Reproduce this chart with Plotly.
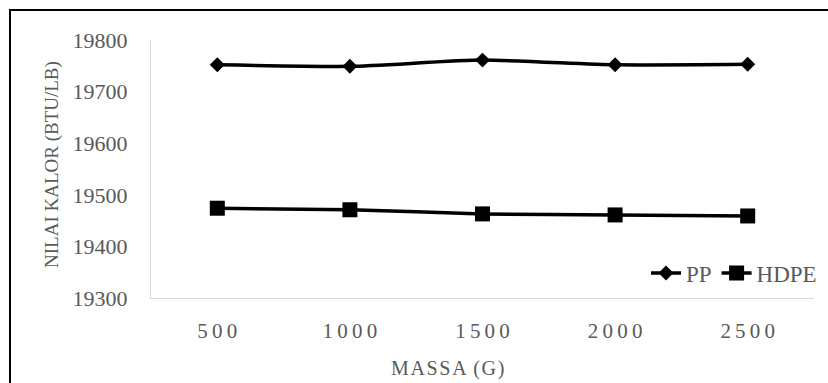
import plotly.graph_objects as go

massa = ["500", "1000", "1500", "2000", "2500"]
pp = [19752, 19749, 19761, 19752, 19753]
hdpe = [19474, 19471, 19463, 19461, 19459]
y_ticks = [19300, 19400, 19500, 19600, 19700, 19800]

FONT = "Liberation Serif, Times New Roman, serif"
GREY = "#595959"

# spaced tick labels (the original has letter-spaced category labels)
x_ticktext = ["\u2009".join(list(m)) for m in massa]
y_ticktext = [str(v) for v in y_ticks]

fig = go.Figure()
fig.add_trace(go.Scatter(
    x=massa, y=pp, name="PP", mode="lines+markers",
    line=dict(color="black", width=3.5, shape="spline", smoothing=0.6),
    marker=dict(symbol="diamond", size=11.5, color="black"),
))
fig.add_trace(go.Scatter(
    x=massa, y=hdpe, name="HDPE", mode="lines+markers",
    line=dict(color="black", width=3.5, shape="spline", smoothing=0.6),
    marker=dict(symbol="square", size=15, color="black"),
))

L, R, T, B = 151, 14, 40, 85
W, H = 828, 383
pw = W - L - R
ph = H - T - B

fig.update_layout(
    width=W, height=H,
    margin=dict(l=L, r=R, t=T, b=B, pad=0, autoexpand=False),
    paper_bgcolor="white", plot_bgcolor="white",
    font=dict(family=FONT, color=GREY, size=21),
    showlegend=True,
    legend=dict(
        orientation="h", x=(822 - L) / pw, xanchor="right",
        y=(298 - 273) / ph, yanchor="middle",
        font=dict(family=FONT, size=23, color=GREY),
        bgcolor="rgba(0,0,0,0)", itemwidth=30, tracegroupgap=0,
    ),
    xaxis=dict(
        type="category", tickmode="array", tickvals=massa, ticktext=x_ticktext,
        showgrid=False, zeroline=False, showline=True, linecolor="#d9d9d9", linewidth=1,
        ticks="", ticklabelstandoff=14,
        tickfont=dict(family=FONT, size=21, color=GREY),
        range=[-0.5, 4.5],
    ),
    yaxis=dict(
        range=[19300, 19800], tickmode="array", tickvals=y_ticks, ticktext=y_ticktext,
        showgrid=False, zeroline=False, showline=True, linecolor="#d9d9d9", linewidth=1,
        ticks="", ticklabelstandoff=18,
        tickfont=dict(family=FONT, size=22, color=GREY),
    ),
    annotations=[
        dict(text="NILAI KALOR (BTU/LB)", xref="paper", yref="paper",
             x=(52 - L) / pw, y=(298 - 165) / ph, textangle=-90,
             showarrow=False, xanchor="center", yanchor="middle",
             font=dict(family=FONT, size=19, color=GREY)),
        dict(text="M\u200aA\u200aS\u200aS\u200aA\u200a (\u200aG\u200a)", xref="paper", yref="paper",
             x=(447 - L) / pw, y=-(368 - 298) / ph,
             showarrow=False, xanchor="center", yanchor="middle",
             font=dict(family=FONT, size=20, color=GREY)),
    ],
    shapes=[
        dict(type="rect", xref="paper", yref="paper",
             x0=(10 - L) / pw, x1=(840 - L) / pw,
             y0=-(400 - 298) / ph, y1=(298 - 10) / ph,
             line=dict(color="black", width=2), fillcolor="rgba(0,0,0,0)", layer="above"),
    ],
)

fig.write_html("out.html")
